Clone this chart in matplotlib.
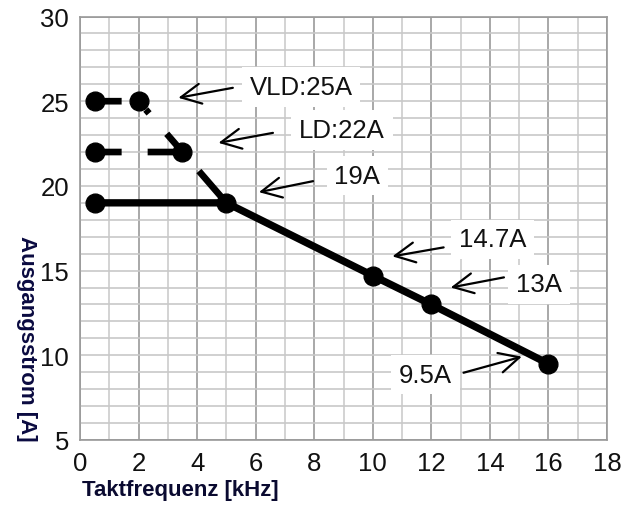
import matplotlib
matplotlib.use("Agg")
import matplotlib.pyplot as plt
import numpy as np

plt.rcParams['font.family'] = ['Liberation Sans', 'DejaVu Sans']
plt.rcParams['lines.scale_dashes'] = False

# Data
freq_main = [0.5, 5, 10, 12, 16]
curr_main = [19, 19, 14.7, 13, 9.5]
freq_ld = [0.5, 3.5, 5]
curr_ld = [22, 22, 19]
freq_vld = [0.5, 2, 5]
curr_vld = [25, 25, 19]

labels = ["VLD:25A", "LD:22A", "19A", "14.7A", "13A", "9.5A"]
label_xy = [(7.55, 25.85), (8.95, 23.3), (9.47, 20.6), (14.1, 16.85), (15.68, 14.18), (11.8, 8.85)]
arrow_tail = [(5.22, 25.79), (6.59, 23.13), (7.96, 20.28), (12.42, 16.37), (14.48, 14.6), (13.1, 8.97)]
arrow_head = [(3.36, 25.2), (4.73, 22.54), (6.11, 19.63), (10.67, 15.84), (12.66, 14.0), (15.09, 9.92)]

xticks = [0, 2, 4, 6, 8, 10, 12, 14, 16, 18]
yticks = [5, 10, 15, 20, 25, 30]

fig = plt.figure(figsize=(6.29, 5.06), dpi=100)
ax = fig.add_axes([80/629, 1-441/506, (607-80)/629, (441-17.5)/506])

ax.set_xlim(0, 18)
ax.set_ylim(5, 30)

# grid
for xv in np.arange(0, 19, 1):
    c = '#9a9a9a' if xv % 2 == 0 else '#cccccc'
    ax.axvline(xv, color=c, lw=1.2, zorder=0)
for yv in np.arange(5, 31, 1):
    c = '#9a9a9a' if yv in (5, 30) else '#c8c8c8'
    ax.axhline(yv, color=c, lw=1.2, zorder=0)

for s in ax.spines.values():
    s.set_color('#9a9a9a')
    s.set_linewidth(1.2)

ax.set_xticks(xticks)
ax.set_yticks(yticks)
ax.tick_params(length=0, labelsize=18.5, pad=8, colors='#111111')

px = 0.72  # px -> pt at 100 dpi
ld_dash = tuple(v * px for v in (27, 26, 37, 23, 60, 40))
vld_dash = tuple(v * px for v in (27, 28, 5, 27, 24, 100))

ax.plot(freq_vld, curr_vld, color='black', lw=4.8, ls=(0, vld_dash),
        dash_capstyle='butt', zorder=3)
ax.plot(freq_vld[:2], curr_vld[:2], ls='none', marker='o', ms=13.5,
        color='black', zorder=3)
ax.plot(freq_ld, curr_ld, color='black', lw=4.8, ls=(0, ld_dash),
        dash_capstyle='butt', zorder=3)
ax.plot(freq_ld[:2], curr_ld[:2], ls='none', marker='o', ms=13.5,
        color='black', zorder=3)
ax.plot(freq_main, curr_main, color='black', lw=5.3, ls='-',
        marker='o', ms=13.5, zorder=4)

for lab, txy, tail, head in zip(labels, label_xy, arrow_tail, arrow_head):
    ax.text(txy[0], txy[1], lab, fontsize=18.5, ha='center', va='center',
            color='#111111', zorder=5,
            bbox=dict(boxstyle='square,pad=0.3', fc='white', ec='none'))
    ax.annotate('', xy=head, xytext=tail, zorder=6,
                arrowprops=dict(arrowstyle='->,head_length=0.8,head_width=0.4',
                                color='black', lw=1.6, shrinkA=0, shrinkB=0,
                                mutation_scale=18))

ax.set_xlabel('Taktfrequenz [kHz]', fontsize=16, fontweight='bold', color='#0a0a30')
ax.xaxis.set_label_coords(0.19, -0.092)
ax.xaxis.label.set_ha('center')
ax.set_ylabel('Ausgangsstrom [A]', fontsize=16, fontweight='bold', color='#0a0a40',
              rotation=270, va='center', ha='center')
ax.yaxis.set_label_coords(-0.101, 0.242)

fig.savefig('out.png', dpi=100)
